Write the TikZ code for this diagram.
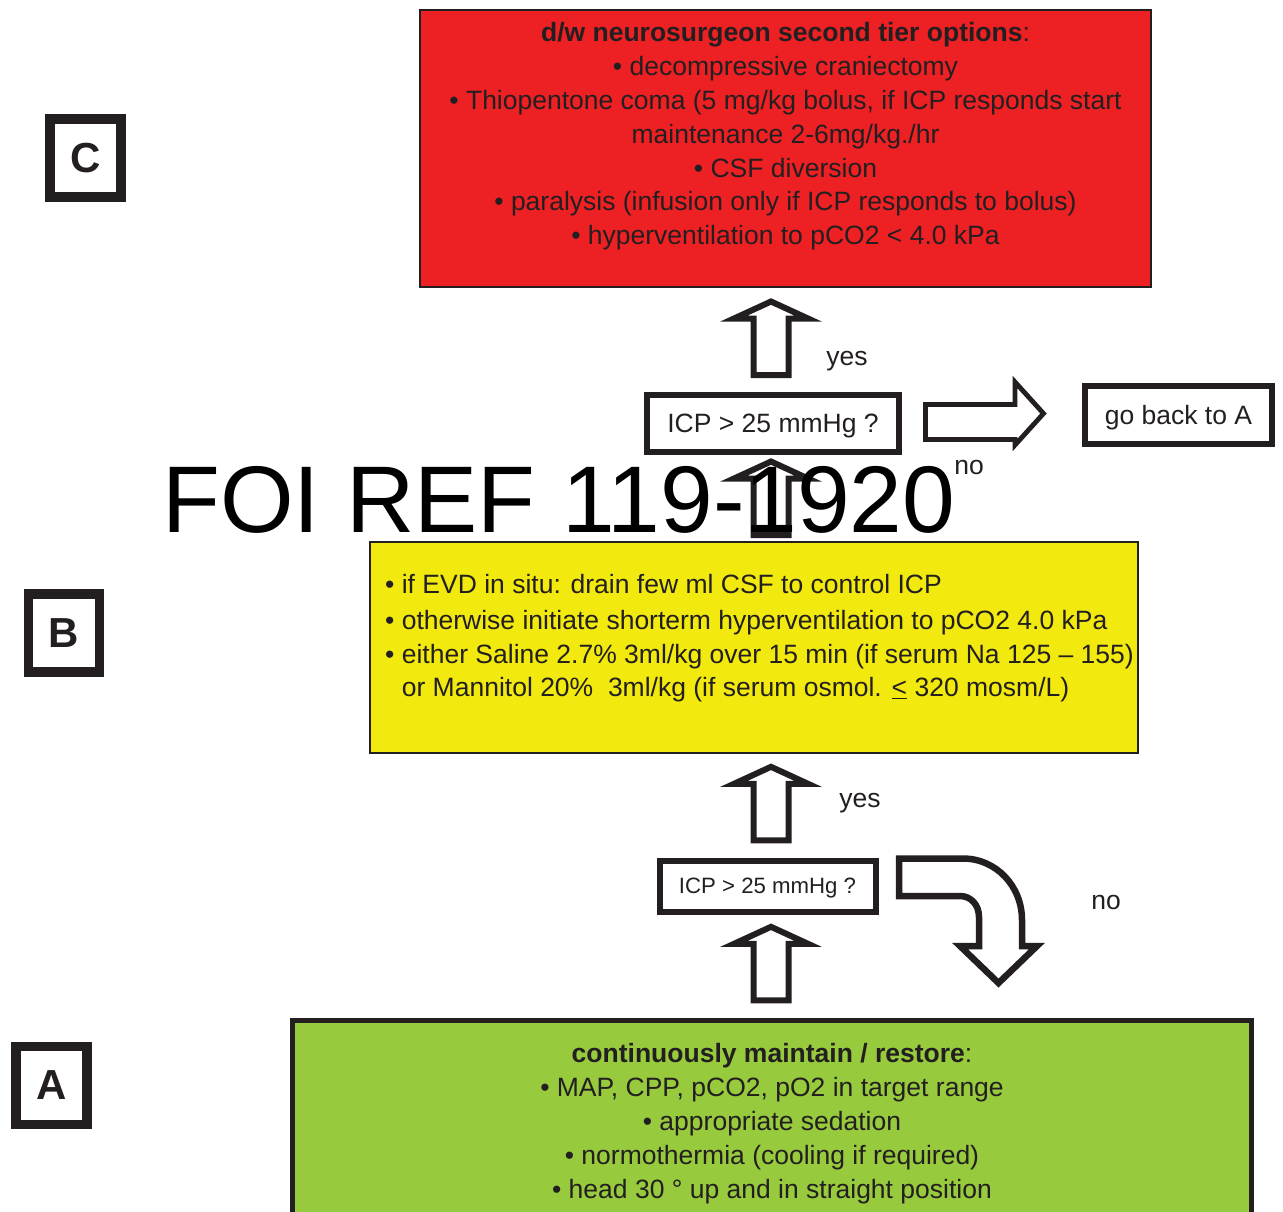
\documentclass[tikz,border=0pt]{standalone}
\usepackage{fontspec}
\setmainfont{Liberation Sans}
\usetikzlibrary{calc}
\definecolor{ink}{HTML}{231F20}
\definecolor{tierred}{HTML}{ED2024}
\definecolor{tieryellow}{HTML}{F2E90F}
\definecolor{tiergreen}{HTML}{97CA3D}

% hollow upward block arrow, #1 = centre of its tail
\newcommand\upblock[1]{%
  \draw[blockarrow] ($(#1)+(-17.5,0)$) -- ($(#1)+(-17.5,-56.5)$)
    -- ($(#1)+(-37,-56.5)$) -- ($(#1)+(0,-73.5)$) -- ($(#1)+(37,-56.5)$)
    -- ($(#1)+(17.5,-56.5)$) -- ($(#1)+(17.5,0)$) -- cycle;}

\begin{document}
\begin{tikzpicture}[x=1pt,y=-1pt,
  every node/.style={text=ink, inner sep=0pt},
  bodytext/.style={font=\fontsize{26.5}{33.8}\selectfont},
  tierbox/.style={draw=ink, line width=2pt},
  qbox/.style={draw=ink, line width=6pt, fill=white, text depth=0pt,
    font=\fontsize{26.5}{30}\selectfont},
  tagbox/.style={draw=ink, line width=9.5pt, fill=white, minimum width=71pt,
    minimum height=78pt, font=\fontsize{42}{42}\selectfont\bfseries},
  blockarrow/.style={draw=ink, line width=6pt, fill=white, line join=miter},
  answer/.style={font=\fontsize{26.5}{30}\selectfont, text depth=0pt}]

\useasboundingbox (0,0) rectangle (1283,1211);
\clip (0,0) rectangle (1283,1211);
\fill[white] (0,0) rectangle (1283,1211);

% tier boxes
\node[tierbox, fill=tierred, minimum width=731pt, minimum height=277pt] (tierC) at (785.5,148.5) {};
\node[tierbox, fill=tieryellow, minimum width=768pt, minimum height=211pt] (tierB) at (754,647.5) {};
\node[draw=ink, line width=5pt, fill=tiergreen, minimum width=959pt, minimum height=230pt] (tierA) at (772,1135.5) {};

% tier contents
\node[bodytext, align=center, anchor=north] (textC) at (785.5,22.5)
  {\textbf{d/w neurosurgeon second tier options}:\\
   • decompressive craniectomy\\
   • Thiopentone coma (5 mg/kg bolus, if ICP responds start\\
   maintenance 2-6mg/kg./hr\\
   • CSF diversion\\
   • paralysis (infusion only if ICP responds to bolus)\\
   • hyperventilation to pCO2 < 4.0 kPa};

\node[bodytext, align=left, anchor=north west] (textB) at (385,574.5)
  {• if EVD in situ: drain few ml CSF to control ICP\\[1.5pt]
   • otherwise initiate shorterm hyperventilation to pCO2 4.0 kPa\\
   • either Saline 2.7\% 3ml/kg over 15 min (if serum Na 125 – 155)\\
   \phantom{•}\ or Mannitol 20\%\ \ 3ml/kg (if serum osmol. \underline{<} 320 mosm/L)};

\node[bodytext, align=center, anchor=north] (textA) at (772,1043.5)
  {\textbf{continuously maintain / restore}:\\
   • MAP, CPP, pCO2, pO2 in target range\\
   • appropriate sedation\\
   • normothermia (cooling if required)\\
   • head 30 ° up and in straight position};

% tier tags
\node[tagbox] (tagC) at (85.5,158) {C};
\node[tagbox] (tagB) at (64,633) {B};
\node[tagbox] (tagA) at (51.5,1085.5) {A};

% decision boxes
\node[qbox, minimum width=252pt, minimum height=57pt] (icpB) at (773,423.5) {ICP > 25 mmHg ?};
\node[qbox, minimum width=216pt, minimum height=51pt, font=\fontsize{22.2}{26}\selectfont] (icpA) at (767.5,886) {ICP > 25 mmHg ?};
\node[qbox, minimum width=187pt, minimum height=58pt] (back) at (1178.5,415) {go back to A};

% block arrows
\coordinate (tailC) at (771,375);
\coordinate (tailIcpB) at (771,535);
\coordinate (tailB) at (771,840.3);
\coordinate (tailIcpA) at (771,1000.3);
\upblock{tailC}
\upblock{tailIcpB}
\upblock{tailB}
\upblock{tailIcpA}

\draw[blockarrow, line width=4.8pt] (925.5,404.5) -- (1015,404.5) -- (1015,382)
  -- (1043.5,413.5) -- (1015,445) -- (1015,439.5) -- (925.5,439.5) -- cycle;

\draw[blockarrow, line width=6.5pt] (899,858.5) -- (963,858.5)
  .. controls (996,858.5) and (1022,886) .. (1022,920) -- (1022,946) -- (1037,946)
  -- (998.5,983) -- (960,946) -- (979,946) -- (979,917)
  .. controls (979,905) and (971,896) .. (960,896) -- (899,896) -- cycle;

% answers
\node[answer] (yesC) at (847,358) {yes};
\node[answer] (yesB) at (860,800) {yes};
\node[answer] (noB) at (969,467) {no};
\node[answer] (noA) at (1106,902) {no};

% reference stamp
\node[anchor=base west, text=black, font=\fontsize{94.7}{94.7}\selectfont] (foiref) at (162,532) {FOI REF 119-1920};
\end{tikzpicture}
\end{document}
